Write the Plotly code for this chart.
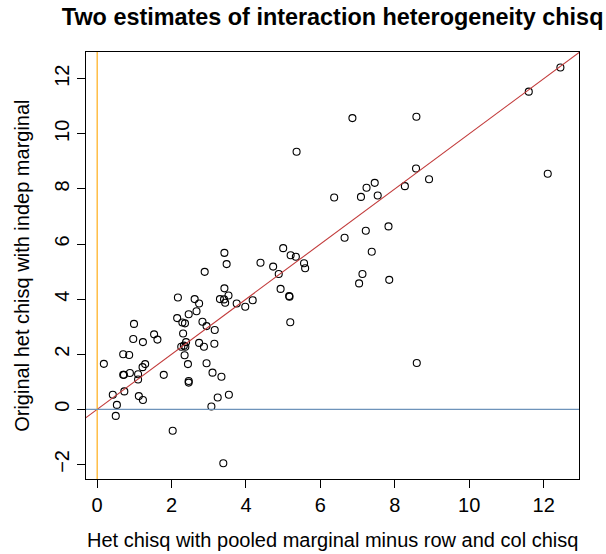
import plotly.graph_objects as go

# Het chisq with pooled marginal minus row and col chisq
x_vals = [5.36, 3.42, 5.00, 5.20, 5.34, 3.48, 4.39, 4.73, 5.56, 5.59, 4.88, 4.93,
          5.16, 5.17, 5.19, 2.89, 2.17, 2.62, 2.74, 2.67, 2.46, 2.15, 2.29, 2.36,
          2.83, 2.94, 3.16, 3.42, 3.53, 3.30, 3.41, 3.44, 3.75, 3.98, 4.18, 2.31,
          2.74, 2.87, 3.15, 2.26, 2.33, 2.39, 2.37, 2.35, 2.44, 2.94, 3.10, 3.34,
          2.46, 2.46, 3.24, 3.54, 3.07, 2.03, 3.39, 1.79, 1.53, 1.62, 0.99, 0.97,
          1.23, 0.70, 0.86, 0.18, 1.29, 1.22, 0.70, 0.72, 0.88, 1.10, 1.10, 0.73,
          0.42, 1.12, 1.23, 0.53, 0.50, 6.86, 8.58, 11.60, 12.45, 12.11, 8.57, 8.92,
          8.27, 7.46, 7.24, 7.09, 7.54, 6.37, 7.83, 7.22, 6.65, 7.38, 7.13, 7.04,
          7.85, 8.59]
# Original het chisq with indep marginal
y_vals = [9.35, 5.68, 5.85, 5.59, 5.54, 5.27, 5.32, 5.18, 5.30, 5.12, 4.91, 4.37,
          4.11, 4.09, 3.16, 4.99, 4.06, 4.00, 3.84, 3.56, 3.45, 3.31, 3.15, 3.12,
          3.18, 3.02, 2.88, 4.39, 4.13, 4.00, 3.99, 3.87, 3.84, 3.72, 3.96, 2.75,
          2.41, 2.27, 2.38, 2.27, 2.31, 2.44, 2.27, 1.96, 1.64, 1.67, 1.33, 1.18,
          1.03, 0.97, 0.43, 0.53, 0.10, -0.78, -1.96, 1.25, 2.72, 2.53, 3.10, 2.55,
          2.44, 2.00, 1.97, 1.65, 1.64, 1.53, 1.25, 1.25, 1.32, 1.27, 1.08, 0.65,
          0.53, 0.48, 0.34, 0.16, -0.24, 10.57, 10.62, 11.53, 12.41, 8.55, 8.74, 8.35,
          8.10, 8.22, 8.04, 7.71, 7.76, 7.69, 6.64, 6.48, 6.23, 5.72, 4.91, 4.57,
          4.70, 1.68]

x_ticks = [0, 2, 4, 6, 8, 10, 12]
y_ticks = [-2, 0, 2, 4, 6, 8, 10, 12]
x_range = [-0.30, 12.95]
y_range = [-2.53, 12.97]
ref_intercept = 0
ref_slope = 1
ref_line_x = [-1, 14]
ref_line_y = [ref_intercept + ref_slope * v for v in ref_line_x]
hline_y = 0
vline_x = 0

FONT = "Liberation Sans, Arial, Helvetica, sans-serif"

W, H = 606, 554
L, R, T, B = 86, 579.3, 52.3, 478.7

fig = go.Figure()
fig.add_trace(go.Scatter(
    x=x_vals, y=y_vals, mode="markers",
    marker=dict(symbol="circle-open", size=7, color="black", line=dict(width=1.1, color="black")),
    showlegend=False, hoverinfo="skip"))
fig.add_trace(go.Scatter(
    x=ref_line_x, y=ref_line_y, mode="lines",
    line=dict(color="#C23B3B", width=1.1), showlegend=False, hoverinfo="skip"))

fig.add_shape(type="line", xref="x", yref="paper", x0=vline_x, x1=vline_x, y0=0, y1=1,
              line=dict(color="#FFA500", width=1.1))
fig.add_shape(type="line", xref="paper", yref="y", x0=0, x1=1, y0=hline_y, y1=hline_y,
              line=dict(color="#6E93BA", width=1.3))

axis_common = dict(showgrid=False, zeroline=False, showline=True, linecolor="black",
                   linewidth=1, mirror=True, ticks="outside", ticklen=8, tickwidth=1,
                   tickcolor="black", tickfont=dict(family=FONT, size=20, color="black"))

fig.update_xaxes(range=x_range, tickvals=x_ticks, ticktext=[str(v) for v in x_ticks],
                 **axis_common)
fig.update_yaxes(range=y_range, tickvals=y_ticks,
                 ticktext=[("\u2212" + str(-v)) if v < 0 else str(v) for v in y_ticks],
                 tickangle=-90, **axis_common)

pw, ph = R - L, B - T
fig.update_layout(
    width=W, height=H,
    margin=dict(l=L, r=W - R, t=T, b=H - B, pad=0),
    plot_bgcolor="white", paper_bgcolor="white",
    title=dict(text="<b>Two estimates of interaction heterogeneity chisq</b>",
               x=(L + R) / 2 / W, xanchor="center", y=1 - 16.5 / H, yanchor="middle",
               yref="container", font=dict(family=FONT, size=23.4, color="black")),
    annotations=[
        dict(text="Het chisq with pooled marginal minus row and col chisq",
             xref="paper", yref="paper", x=0.5, y=-(540 - B) / ph,
             xanchor="center", yanchor="middle", showarrow=False,
             font=dict(family=FONT, size=20, color="black")),
        dict(text="Original het chisq with indep marginal",
             xref="paper", yref="paper", x=-(L - 21.3) / pw, y=0.5,
             xanchor="center", yanchor="middle", showarrow=False, textangle=-90,
             font=dict(family=FONT, size=20, color="black")),
    ],
)

fig.write_html("out.html", config={"displayModeBar": False},
               post_script="document.body.style.margin='0';")
